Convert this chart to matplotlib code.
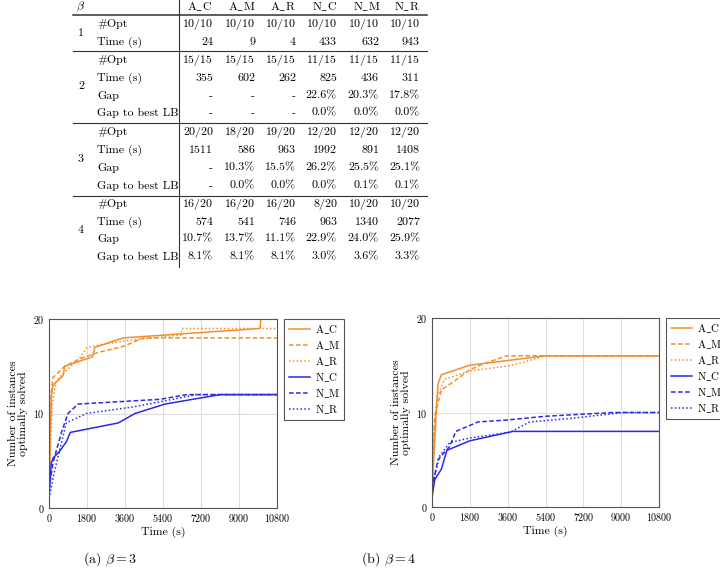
import matplotlib
matplotlib.use("Agg")
import matplotlib.pyplot as plt
from matplotlib.lines import Line2D

plt.rcParams['font.family'] = ['cmr10', 'DejaVu Serif']
plt.rcParams['mathtext.fontset'] = 'cm'
plt.rcParams['axes.formatter.use_mathtext'] = True
plt.rcParams['axes.unicode_minus'] = False

# ---------------------------------------------------------------------------
# Table data
# ---------------------------------------------------------------------------
methods = ['A_C', 'A_M', 'A_R', 'N_C', 'N_M', 'N_R']
betas = ['1', '2', '3', '4']

opt_b1 = ['10/10', '10/10', '10/10', '10/10', '10/10', '10/10']
time_b1 = ['24', '9', '4', '433', '632', '943']

opt_b2 = ['15/15', '15/15', '15/15', '11/15', '11/15', '11/15']
time_b2 = ['355', '602', '262', '825', '436', '311']
gap_b2 = ['-', '-', '-', '22.6%', '20.3%', '17.8%']
lb_b2 = ['-', '-', '-', '0.0%', '0.0%', '0.0%']

opt_b3 = ['20/20', '18/20', '19/20', '12/20', '12/20', '12/20']
time_b3 = ['1511', '586', '963', '1992', '891', '1408']
gap_b3 = ['-', '10.3%', '15.5%', '26.2%', '25.5%', '25.1%']
lb_b3 = ['-', '0.0%', '0.0%', '0.0%', '0.1%', '0.1%']

opt_b4 = ['16/20', '16/20', '16/20', '8/20', '10/20', '10/20']
time_b4 = ['574', '541', '746', '963', '1340', '2077']
gap_b4 = ['10.7%', '13.7%', '11.1%', '22.9%', '24.0%', '25.9%']
lb_b4 = ['8.1%', '8.1%', '8.1%', '3.0%', '3.6%', '3.3%']

# ---------------------------------------------------------------------------
# Curve data (time in s, number of instances solved)
# ---------------------------------------------------------------------------
t3_ac = [10, 60, 120, 190, 665, 745, 2060, 2170, 3520, 10000, 10030, 10800]
n3_ac = [3, 8, 12, 13, 14, 15, 16, 17, 18, 19, 20, 20]
t3_am = [10, 100, 190, 745, 1200, 1700, 2400, 3520, 4470, 10800]
n3_am = [4, 12, 13.8, 15, 15.5, 16, 16.5, 17.1, 18, 18]
t3_ar = [10, 150, 350, 800, 1500, 1800, 2500, 4000, 6250, 6300, 10800]
n3_ar = [2, 11, 13.5, 14.5, 16, 17, 17.3, 17.8, 18.3, 19, 19]
t3_nc = [0, 110, 200, 500, 820, 1010, 3280, 4070, 5500, 8110, 10800]
n3_nc = [1, 4.8, 5.3, 6, 7, 8, 9, 10, 11, 12, 12]
t3_nm = [0, 190, 590, 900, 1380, 5260, 6530, 10800]
n3_nm = [2, 4.8, 8, 10, 11, 11.5, 12, 12]
t3_nr = [0, 270, 820, 1770, 4000, 5400, 7000, 10800]
n3_nr = [1, 4, 9, 10, 10.7, 11.3, 12, 12]

t4_ac = [10, 200, 285, 445, 1790, 5390, 10800]
n4_ac = [2, 10, 13, 14, 15, 16, 16]
t4_am = [10, 130, 445, 920, 1790, 2270, 3540, 10800]
n4_am = [3, 9.6, 12.4, 13.1, 14.5, 15, 16, 16]
t4_ar = [10, 80, 240, 600, 1790, 3540, 4170, 5390, 10800]
n4_ar = [2, 7.8, 11.7, 13.5, 14.4, 14.9, 15.2, 16, 16]
t4_nc = [0, 130, 445, 710, 1790, 3850, 10800]
n4_nc = [1, 2.9, 4, 6, 7, 8, 8]
t4_nm = [0, 285, 840, 1130, 2190, 3540, 5390, 8610, 10800]
n4_nm = [2, 5, 6.4, 8, 9, 9.2, 9.6, 10, 10]
t4_nr = [0, 365, 840, 1790, 3700, 4650, 6710, 9090, 10800]
n4_nr = [2.2, 5.4, 6.8, 7.3, 7.9, 9, 9.4, 10, 10]

xticks = [0, 1800, 3600, 5400, 7200, 9000, 10800]
yticks = [0, 10, 20]

ORANGE = '#f28f2c'
BLUE = '#2a2ae6'

W, H = 720, 570
fig = plt.figure(figsize=(7.2, 5.7), dpi=100)


def fx(px):
    return px / W


def fy(py):
    return 1 - py / H


def hline(y, x0=73, x1=427, lw=0.8):
    fig.add_artist(Line2D([fx(x0), fx(x1)], [fy(y), fy(y)], transform=fig.transFigure,
                          color='#333333', lw=lw))


# ---------------------------------------------------------------------------
# Table
# ---------------------------------------------------------------------------
fs = 8.6
fs_lab = 8.6
col_right = [213, 255, 296, 337, 379, 420]
col_center = [200, 242, 283, 325, 367, 407]

fig.text(fx(80), fy(7), r'$\beta$', fontsize=fs, ha='center', va='center')
for m, xc in zip(methods, col_center):
    a, b = m.split('_')
    fig.text(fx(xc), fy(7), a + r'$\_$' + b, fontsize=fs, ha='center', va='center')

groups = [
    (['#Opt', 'Time (s)'], [opt_b1, time_b1], [24, 42]),
    (['#Opt', 'Time (s)', 'Gap', 'Gap to best LB'], [opt_b2, time_b2, gap_b2, lb_b2], [60, 78, 96, 113]),
    (['#Opt', 'Time (s)', 'Gap', 'Gap to best LB'], [opt_b3, time_b3, gap_b3, lb_b3], [132, 150, 168, 186]),
    (['#Opt', 'Time (s)', 'Gap', 'Gap to best LB'], [opt_b4, time_b4, gap_b4, lb_b4], [204, 222, 239, 257]),
]
for beta, (labels, rows, ys) in zip(betas, groups):
    fig.text(fx(81), fy((ys[0] + ys[-1]) / 2), beta, fontsize=fs, ha='center', va='center')
    for lab, vals, y in zip(labels, rows, ys):
        fig.text(fx(97), fy(y), lab, fontsize=fs_lab, ha='left', va='center')
        for v, xr in zip(vals, col_right):
            fig.text(fx(xr), fy(y), v, fontsize=fs, ha='right', va='center')

hline(15, lw=1.1)
hline(51)
hline(123)
hline(196)
fig.add_artist(Line2D([fx(179), fx(179)], [fy(0), fy(267)], transform=fig.transFigure,
                      color='#333333', lw=0.8))

# ---------------------------------------------------------------------------
# Plots
# ---------------------------------------------------------------------------
labels = [r'A$\_$C', r'A$\_$M', r'A$\_$R', r'N$\_$C', r'N$\_$M', r'N$\_$R']
styles = [('-', ORANGE), ((0, (3, 1.6)), ORANGE), ((0, (1, 1.5)), ORANGE),
          ('-', BLUE), ((0, (3, 1.6)), BLUE), ((0, (1, 1.5)), BLUE)]

panels = [
    ([49, 319, 277, 508], [(t3_ac, n3_ac), (t3_am, n3_am), (t3_ar, n3_ar),
                           (t3_nc, n3_nc), (t3_nm, n3_nm), (t3_nr, n3_nr)], r'(a) $\beta = 3$', 110),
    ([432, 318, 659, 507], [(t4_ac, n4_ac), (t4_am, n4_am), (t4_ar, n4_ar),
                            (t4_nc, n4_nc), (t4_nm, n4_nm), (t4_nr, n4_nr)], r'(b) $\beta = 4$', 389),
]

for (x0, y0, x1, y1), series, cap, capx in panels:
    ax = fig.add_axes([fx(x0), fy(y1), (x1 - x0) / W, (y1 - y0) / H])
    for (t, n), lab, (ls, c) in zip(series, labels, styles):
        ax.plot(t, n, ls=ls, color=c, lw=1.1, label=lab)
    ax.set_xlim(0, 10800)
    ax.set_ylim(0, 20)
    ax.set_xticks(xticks)
    ax.set_yticks(yticks)
    ax.grid(True, color='#dddddd', lw=0.8)
    ax.set_axisbelow(True)
    ax.tick_params(length=0, labelsize=7.2, pad=3)
    for s in ax.spines.values():
        s.set_color('#555555')
        s.set_linewidth(0.8)
    ax.set_xlabel('Time (s)', fontsize=8.5, labelpad=2)
    ax.set_ylabel('Number of instances\noptimally solved', fontsize=8.5, labelpad=4,
                  linespacing=1.0)
    leg = ax.legend(loc='upper left', bbox_to_anchor=(1.032, 1.0), borderaxespad=0,
                    fancybox=False, edgecolor='#555555', fontsize=7.8, handlelength=2.0,
                    labelspacing=0.3, handletextpad=0.4, borderpad=0.4, framealpha=1)
    leg.get_frame().set_linewidth(0.8)
    fig.text(fx(capx), fy(559), cap, fontsize=10, ha='center', va='center')

fig.savefig('out.png', dpi=100)
